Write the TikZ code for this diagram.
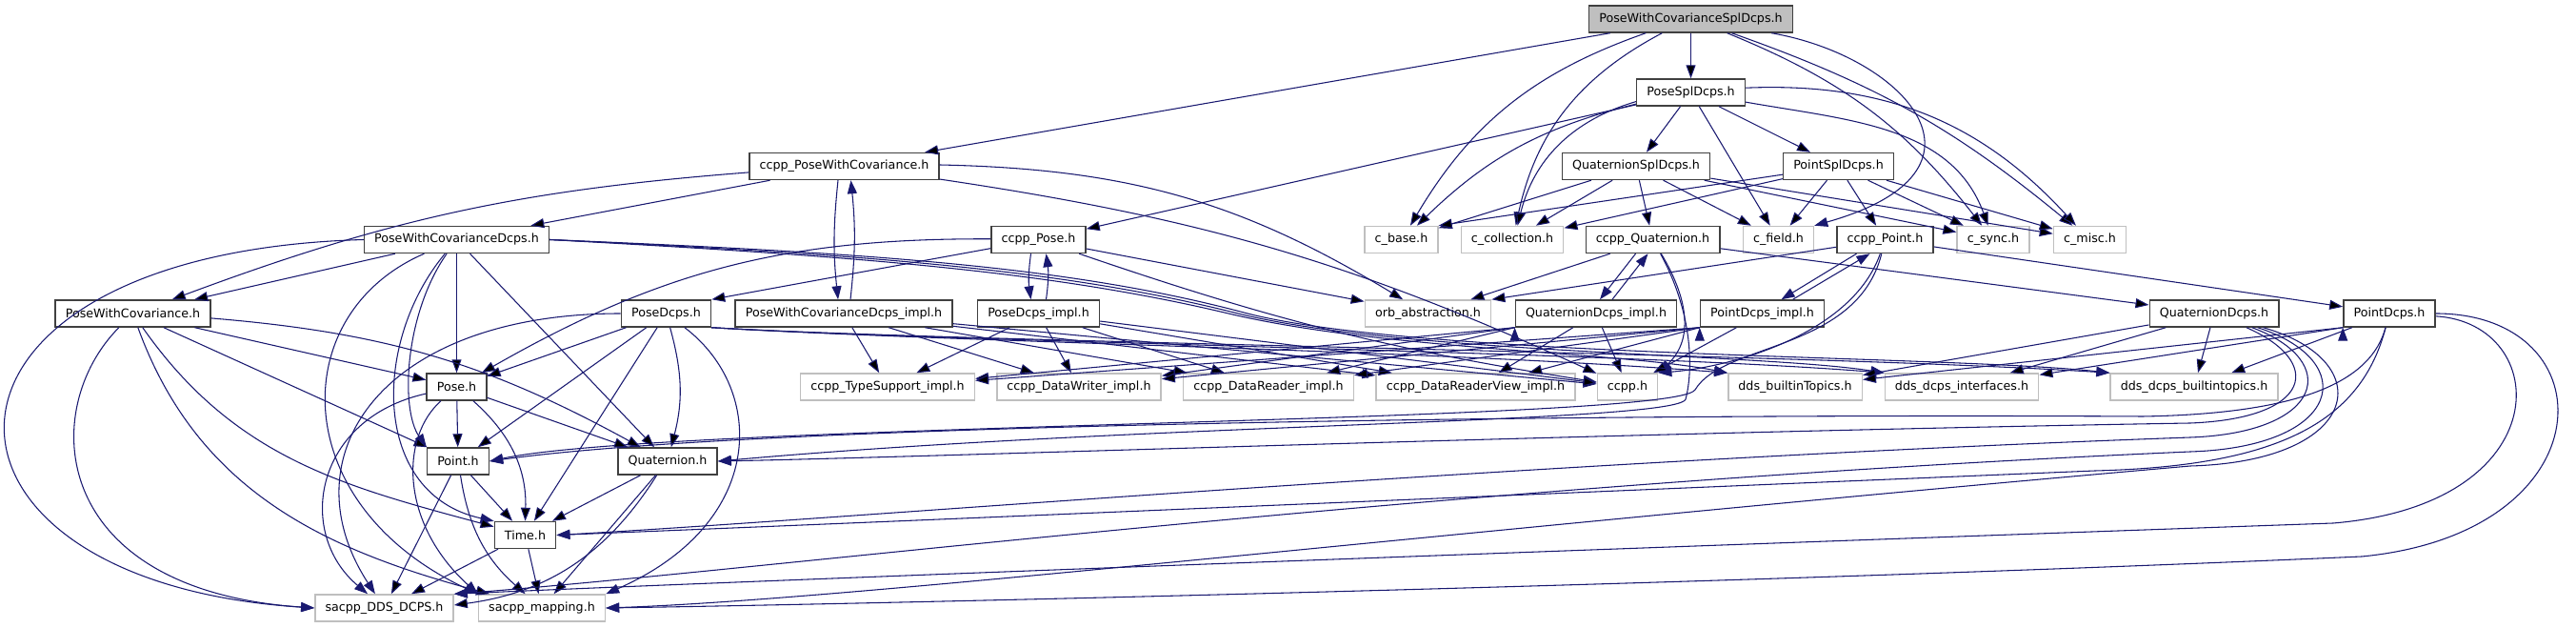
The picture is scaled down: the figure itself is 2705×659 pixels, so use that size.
\documentclass[tikz,border=0pt]{standalone}
\usepackage{fontspec}
\setmainfont{DejaVu Sans}
\usetikzlibrary{arrows.meta,calc}
\definecolor{incblue}{HTML}{191970}
\definecolor{boxgray}{HTML}{BFBFBF}
\definecolor{boxdark}{HTML}{404040}

\begin{document}
\begin{tikzpicture}[x=0.75pt, y=0.75pt,
  file/.style={draw=boxdark, fill=white, line width=1.1pt, minimum height=21pt,
    inner xsep=8pt, inner ysep=0pt, font=\fontsize{9.5pt}{11pt}\selectfont},
  ext/.style={file, draw=boxgray},
  top/.style={file, fill=boxgray},
  inc/.style={draw=incblue, line width=0.8pt, -{Triangle[length=10.5pt,width=7.5pt]}}]

\useasboundingbox (0,0) rectangle (2705,659);

%%% files, row by row %%%
\node[top] (pwcspl) at (1775.5,639) {PoseWithCovarianceSplDcps.h};
%%
\node[file] (posespl) at (1775.5,562) {PoseSplDcps.h};
%%
\node[file] (ccpppwc) at (886.5,484.5) {ccpp\_PoseWithCovariance.h};
\node[file] (quatspl) at (1718,484.5) {QuaternionSplDcps.h};
\node[file] (pointspl) at (1930.5,484.5) {PointSplDcps.h};
%%
\node[file] (pwcdcps) at (479.5,407.5) {PoseWithCovarianceDcps.h};
\node[file] (ccpppose) at (1090.5,407.5) {ccpp\_Pose.h};
\node[ext] (cbase) at (1471.5,407.5) {c\_base.h};
\node[ext] (ccoll) at (1588,407.5) {c\_collection.h};
\node[file] (ccppquat) at (1735.5,407.5) {ccpp\_Quaternion.h};
\node[ext] (cfield) at (1867.5,407.5) {c\_field.h};
\node[file] (ccpppoint) at (1979.5,407.5) {ccpp\_Point.h};
\node[ext] (csync) at (2093,407.5) {c\_sync.h};
\node[ext] (cmisc) at (2194.5,407.5) {c\_misc.h};
%%
\node[file] (pwc) at (139.5,330) {PoseWithCovariance.h};
\node[file] (posedcps) at (699.5,330) {PoseDcps.h};
\node[file] (pwcimpl) at (886,330) {PoseWithCovarianceDcps\_impl.h};
\node[file] (poseimpl) at (1090.5,330) {PoseDcps\_impl.h};
\node[ext] (orb) at (1499.5,330) {orb\_abstraction.h};
\node[file] (quatimpl) at (1676,330) {QuaternionDcps\_impl.h};
\node[file] (pointimpl) at (1850.5,330) {PointDcps\_impl.h};
\node[file] (quatdcps) at (2325,330) {QuaternionDcps.h};
\node[file] (pointdcps) at (2509,330) {PointDcps.h};
%%
\node[file] (pose) at (479.5,253) {Pose.h};
\node[ext] (ccppts) at (932,253) {ccpp\_TypeSupport\_impl.h};
\node[ext] (ccppdw) at (1133,253) {ccpp\_DataWriter\_impl.h};
\node[ext] (ccppdr) at (1332,253) {ccpp\_DataReader\_impl.h};
\node[ext] (ccppdrv) at (1549.5,253) {ccpp\_DataReaderView\_impl.h};
\node[ext] (ccpph) at (1709,253) {ccpp.h};
\node[ext] (ddsbt) at (1885,253) {dds\_builtinTopics.h};
\node[ext] (ddsif) at (2060,253) {dds\_dcps\_interfaces.h};
\node[ext] (ddsbti) at (2304,253) {dds\_dcps\_builtintopics.h};
%%
\node[file] (point) at (481,175) {Point.h};
\node[file] (quat) at (701,175) {Quaternion.h};
\node[file] (time) at (551.5,97.5) {Time.h};
%%
\node[ext] (sacppdds) at (403.5,21) {sacpp\_DDS\_DCPS.h};
\node[ext] (sacppmap) at (569,21) {sacpp\_mapping.h};

%%% includes %%%
% PoseWithCovarianceSplDcps.h
\path[inc] (pwcspl) edge (posespl)
  edge (ccpppwc)
  edge[bend right=20] (cbase)
  edge[bend right=25] (ccoll)
  edge[bend left=15] (csync)
  edge[bend left=10] (cmisc);
\draw[inc] (pwcspl) .. controls (2000,600) and (2110,480) .. (cfield.north east);

% PoseSplDcps.h
\path[inc] (posespl) edge (ccpppose)
  edge[bend right=15] (cbase)
  edge[bend right=30] (ccoll)
  edge (quatspl)
  edge (pointspl)
  edge (cfield)
  edge[out=-10,in=110] (csync)
  edge[bend left=25] (cmisc);

% QuaternionSplDcps.h
\path[inc] (quatspl) edge (cbase) edge (ccoll) edge (ccppquat)
  edge (cfield) edge (csync) edge (cmisc);

% PointSplDcps.h
\path[inc] (pointspl) edge (cbase.north east) edge (ccoll) edge (cfield)
  edge (ccpppoint) edge (csync) edge (cmisc);

% ccpp_PoseWithCovariance.h
\path[inc] (ccpppwc) edge (pwcdcps)
  edge[bend right=8] (pwc)
  edge[bend left=15] (orb)
  edge[bend left=8] (ccpph);
\draw[inc] ($(ccpppwc.south)+(-6.5,0)$) to[bend right=6] ($(pwcimpl.north)+(-6,0)$);
\draw[inc] ($(pwcimpl.north)+(7,0)$) to[bend right=6] ($(ccpppwc.south)+(7,0)$);

% PoseWithCovarianceDcps_impl.h
\path[inc] (pwcimpl) edge (ccppts) edge (ccppdw) edge (ccppdr) edge (ccppdrv) edge (ccpph);

% ccpp_Pose.h
\path[inc] (ccpppose) edge (posedcps.north east)
  edge[bend right=15] (pose)
  edge (orb)
  edge[bend right=5] (ccpph);
\draw[inc] ($(ccpppose.south)+(-8,0)$) to[bend right=8] ($(poseimpl.north)+(-8,0)$);
\draw[inc] ($(poseimpl.north)+(8,0)$) to[bend right=8] ($(ccpppose.south)+(8,0)$);

% PoseDcps_impl.h
\path[inc] (poseimpl) edge (ccppts) edge (ccppdw) edge (ccppdr) edge (ccppdrv) edge (ccpph);

% ccpp_Quaternion.h
\path[inc] (ccppquat) edge (quatdcps) edge (orb);
\draw[inc] (ccppquat) .. controls (1776,340) and (1776,300) .. (ccpph.north east);
\draw[inc] (ccppquat) .. controls (1778,330) and (1778,270) .. (1770,240)
  .. controls (1760,215) and (1200,215) .. (quat.east);
\draw[inc] ($(ccppquat.south)+(-18,0)$) -- ($(quatimpl.north)+(4,0)$);
\draw[inc] ($(quatimpl.north)+(17,0)$) -- ($(ccppquat.south)+(-5,0)$);

% QuaternionDcps_impl.h
\path[inc] (quatimpl) edge (ccpph) edge (ccppdrv);
\path[inc] (quatimpl.south west) edge (ccppts) edge (ccppdw) edge (ccppdr);

% ccpp_Point.h
\path[inc] (ccpppoint) edge (pointdcps) edge (orb.north east);
\draw[inc] (ccpppoint) .. controls (1945,309) and (1820,274) .. (ccpph.north east);
\draw[inc] (ccpppoint) .. controls (1950,290) and (1810,300) .. (1780,250)
  .. controls (1760,215) and (700,215) .. (point.east);
\draw[inc] ($(ccpppoint.south)+(-30,0)$) -- ($(pointimpl.north)+(20,0)$);
\draw[inc] ($(pointimpl.north)+(32,0)$) -- ($(ccpppoint.south)+(-16,0)$);

% PointDcps_impl.h
\path[inc] (pointimpl) edge (ccpph);
\path[inc] (pointimpl.south west) edge (ccppts) edge (ccppdw) edge (ccppdr) edge (ccppdrv);

% PoseWithCovarianceDcps.h
\path[inc] (pwcdcps) edge (pwc) edge (pose) edge (quat);
\draw[inc] (pwcdcps) .. controls (425,330) and (420,230) .. (point.north west);
\draw[inc] (pwcdcps) .. controls (390,300) and (390,140) .. (time.north west);
\draw[inc] (pwcdcps) .. controls (300,330) and (300,130) .. (sacppmap.north west);
\draw[inc] (pwcdcps.west) .. controls (-110,394) and (-110,49) .. (sacppdds.west);
\draw[inc] (pwcdcps.east) .. controls (900,390) and (1100,375) .. (1290,330)
  .. controls (1450,292) and (1700,290) .. (ddsbt.north west);
\draw[inc] (pwcdcps.east) .. controls (900,392) and (1110,378) .. (1300,330)
  .. controls (1470,288) and (1850,288) .. (ddsif.north west);
\draw[inc] (pwcdcps.east) .. controls (900,394) and (1120,381) .. (1310,330)
  .. controls (1490,284) and (2050,286) .. (ddsbti.north west);

% PoseDcps.h
\path[inc] (posedcps) edge (pose) edge (point) edge[bend left=15] (quat) edge (time);
\draw[inc] (posedcps) .. controls (805,250) and (805,110) .. (sacppmap.north east);
\draw[inc] (posedcps) .. controls (400,330) and (300,180) .. (sacppdds);
\draw[inc] (posedcps.south east) .. controls (1000,300) and (1500,292) .. (ddsbt.north west);
\draw[inc] (posedcps.south east) .. controls (1000,300) and (1700,290) .. (ddsif.north west);
\draw[inc] (posedcps.south east) .. controls (1000,300) and (1900,288) .. (ddsbti.north west);

% PoseWithCovariance.h
\path[inc] (pwc) edge (pose) edge (point) edge[bend left=12] (quat)
  edge[out=-55,in=165] (time)
  edge[out=-70,in=165] (sacppmap);
\draw[inc] (pwc) .. controls (40,230) and (50,40) .. (sacppdds.west);

% Pose.h
\path[inc] (pose) edge (point) edge (quat) edge[bend left=25] (time);
\draw[inc] (pose) .. controls (330,220) and (310,100) .. (sacppdds);
\draw[inc] (pose) .. controls (420,200) and (420,110) .. (sacppmap.north west);

% Point.h, Quaternion.h, Time.h
\path[inc] (point) edge (time) edge (sacppdds) edge[bend right=20] (sacppmap);
\path[inc] (quat) edge (time) edge[bend left=25] (sacppdds) edge (sacppmap);
\path[inc] (time) edge (sacppdds) edge (sacppmap);

% QuaternionDcps.h
\path[inc] (quatdcps) edge (ddsbt) edge (ddsif) edge (ddsbti);
\draw[inc] (quatdcps) .. controls (2440,280) and (2430,220) .. (2300,215)
  .. controls (1700,205) and (1000,180) .. (quat.east);
\draw[inc] (quatdcps) .. controls (2460,280) and (2440,205) .. (2300,200)
  .. controls (1600,175) and (900,115) .. (time.east);
\draw[inc] (quatdcps) .. controls (2480,280) and (2460,190) .. (2300,185)
  .. controls (1500,150) and (800,60) .. (sacppdds.north east);
\draw[inc] (quatdcps) .. controls (2500,280) and (2480,175) .. (2300,170)
  .. controls (1500,100) and (900,30) .. (sacppmap.east);

% PointDcps.h
\path[inc] (pointdcps.south west) edge (ddsbt) edge (ddsif);
\path[inc] (pointdcps) edge (ddsbti);
\draw[inc] (pointdcps) .. controls (2490,260) and (2420,225) .. (2250,222)
  .. controls (1700,225) and (800,215) .. (point.east);
\draw[inc] (pointdcps) .. controls (2480,220) and (2400,170) .. (2200,165)
  .. controls (1600,140) and (900,110) .. (time.east);
\draw[inc] (pointdcps) .. controls (2680,320) and (2690,130) .. (2450,110)
  .. controls (1600,80) and (800,50) .. (sacppdds.north east);
\draw[inc] (pointdcps) .. controls (2740,330) and (2740,100) .. (2480,75)
  .. controls (1800,45) and (900,25) .. (sacppmap.east);

\end{tikzpicture}
\end{document}
